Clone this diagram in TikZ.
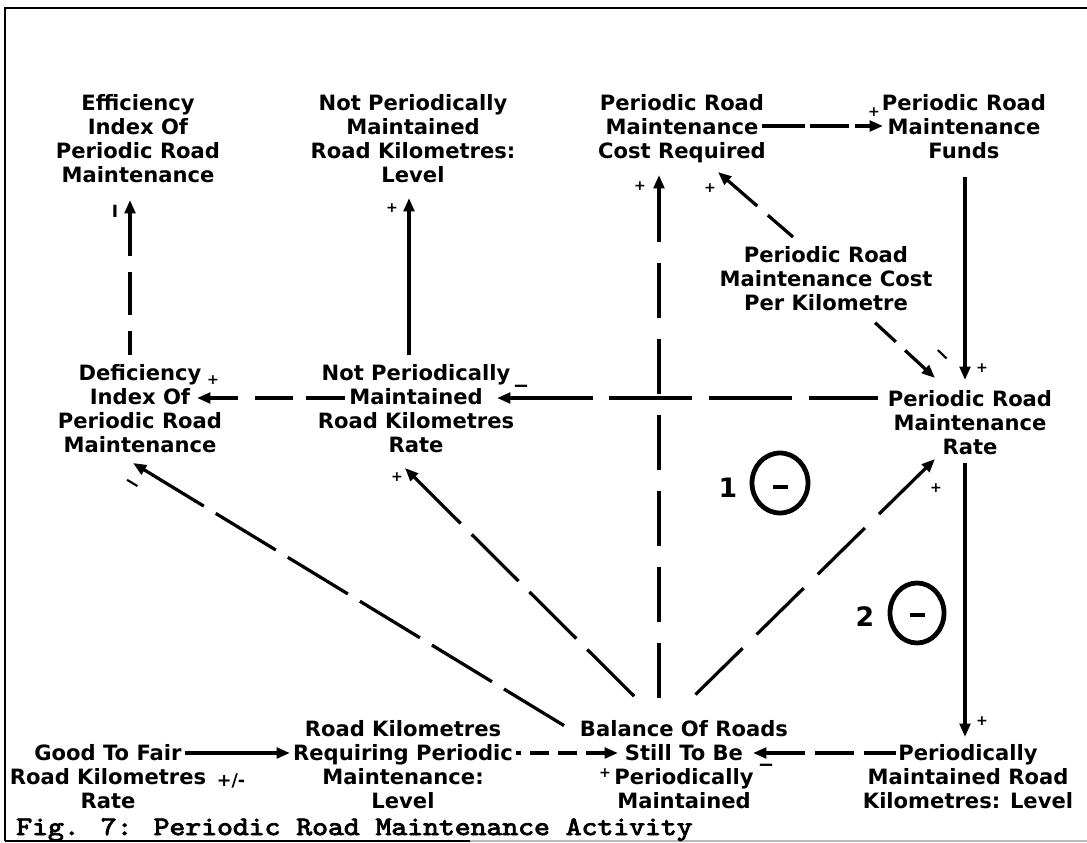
\documentclass[tikz,border=0pt]{standalone}
\usepackage{fontspec}
\usetikzlibrary{arrows.meta,calc}
\newfontfamily\labelfamily{DejaVu Sans}
\newfontfamily\captionfamily{lmmono10-regular}[Extension=.otf,FakeBold=3]
\begin{document}
\begin{tikzpicture}[x=0.025cm,y=-0.025cm,
  var/.style={font=\labelfamily\bfseries\fontsize{15}{17.2}\selectfont,
              align=center, inner sep=0pt, anchor=north},
  pol/.style={font=\labelfamily\bfseries\fontsize{10}{10}\selectfont, inner sep=0pt},
  neg/.style={font=\labelfamily\bfseries\fontsize{14}{14}\selectfont, inner sep=0pt},
  loopno/.style={font=\labelfamily\bfseries\fontsize{19}{20}\selectfont, inner sep=0pt},
  link/.style={line width=2.3pt, {Triangle[length=9.5pt,width=7.5pt]}-},
  loopring/.style={line width=3.4pt},
]
\useasboundingbox (0,0) rectangle (1087,843);

% frame
\draw[line width=1.6pt] (5,841) -- (5,8) -- (1087,8);
\draw[line width=1pt] (5,841) -- (470,841);
\draw[line width=1pt, gray!55] (470,841) -- (1087,841);

% variables
\node[var] (A) at (138,94)  {Efficiency\\Index Of\\Periodic Road\\Maintenance};
\node[var] (B) at (413,94)  {Not Periodically\\Maintained\\Road Kilometres:\\Level};
\node[var] (C) at (682,94)  {Periodic Road\\Maintenance\\Cost Required};
\node[var] (D) at (964,94)  {Periodic Road\\Maintenance\\Funds};
\node[var] (E) at (140,364) {Deficiency\\Index Of\\Periodic Road\\Maintenance};
\node[var] (F) at (416,364) {Not Periodically\\Maintained\\Road Kilometres\\Rate};
\node[var] (G) at (970,390) {Periodic Road\\Maintenance\\Rate};
\node[var] (H) at (826,246) {Periodic Road\\Maintenance Cost\\Per Kilometre};
\node[var] (I) at (108,744) {Good To Fair\\Road Kilometres\\Rate};
\node[var] (J) at (403,720) {Road Kilometres\\Requiring Periodic\\Maintenance:\\Level};
\node[var] (K) at (684,720) {Balance Of Roads\\Still To Be\\Periodically\\Maintained};
\node[var] (L) at (968,744) {Periodically\\Maintained Road\\Kilometres: Level};

% causal links (each drawn from its arrow head back to its source)
\draw[link, dash pattern=on 31pt off 11pt] ($(A.north)+(-8,106)$) -- ($(E.north)+(-10,-9)$);
\draw[link] ($(B.north)+(-4,104)$) -- ($(F.north)+(-7,-9)$);
\draw[link, dash pattern=on 39pt off 15pt] ($(C.north)+(-23,81)$) -- ($(K.north)+(-25,-8)$);
\draw[link, dash pattern=on 11pt off 4pt on 28pt off 3.5pt on 40pt off 0pt] ($(D.north)+(-81,32)$) -- ($(C.north)+(80,32)$);
\draw[link] ($(G.north)+(-5,-10)$) -- ($(D.north)+(1,83)$);
\draw[link, dash pattern=on 28pt off 10pt] ($(C.north)+(36,78)$) -- ($(H.north)+(-33,-9)$);
\draw[link, dash pattern=on 20pt off 9pt] ($(G.north)+(-35,-12)$) -- ($(H.north)+(44,72)$);
\draw[link, dash pattern=on 59pt off 12pt] ($(F.north)+(81,34)$) -- ($(G.north)+(-92,8)$);
\draw[link, dash pattern=on 20.5pt off 12pt on 27pt off 9pt on 28pt off 0pt] ($(E.north)+(57,34)$) -- ($(F.north)+(-71,34)$);
\draw[link, dash pattern=on 50pt off 10pt] ($(E.north)+(-7,99)$) -- ($(K.north)+(-116,8)$);
\draw[link, dash pattern=on 47pt off 11pt] ($(F.north)+(-11,104)$) -- ($(K.north)+(-44,-18)$);
\draw[link, dash pattern=on 47pt off 14pt] ($(G.north)+(-35,69)$) -- ($(K.north)+(9,-23)$);
\draw[link] ($(L.north)+(-3,-7)$) -- ($(G.north)+(-5,73)$);
\draw[link, dash pattern=on 28pt off 7pt] ($(K.north)+(69,33)$) -- ($(L.north)+(-72,9)$);
\draw[link, dash pattern=on 14pt off 6pt] ($(K.north)+(-66,33)$) -- ($(J.north)+(113,33)$);
\draw[link] ($(J.north)+(-113,33)$) -- ($(I.north)+(77,9)$);

% link polarities
\node[pol, font=\labelfamily\bfseries\fontsize{12}{12}\selectfont] (pEA) at (115,211) {I};
\node[pol] (pFB) at (392,208) {+};
\node[pol] (pKC) at (640,186) {+};
\node[pol] (pHC) at (710,188) {+};
\node[pol] (pCD) at (874,112) {+};
\node[pol] (pDG) at (982,368) {+};
\node[pol] (pFE) at (213,380) {+};
\node[pol] (pKF) at (397,477) {+};
\node[pol] (pKG) at (936,488) {+};
\node[pol] (pGL) at (982,721) {+};
\node[pol] (pJK) at (605,773) {+};
\node[neg, rotate=-44] (pHG) at (941,357) {−};
\node[neg] (pGF) at (521,389) {−};
\node[neg, rotate=-31] (pKE) at (131,486) {−};
\node[neg] (pLK) at (766,768) {−};
\node[pol, font=\labelfamily\bfseries\fontsize{12.5}{12.5}\selectfont] (pIJ) at (231,781) {+/-};

% feedback loop markers
\node[loopno] (n1) at (728,488) {1};
\draw[loopring] (780,483) ellipse [x radius=28, y radius=30];
\draw[line width=3pt] (773,487) -- (788,487);
\node[loopno] (n2) at (865,617) {2};
\draw[loopring] (917,613) ellipse [x radius=27, y radius=30];
\draw[line width=3pt] (910,615) -- (925,615);

% caption
\node[anchor=base west, inner sep=0pt, font=\captionfamily\fontsize{19}{22}\selectfont,
      xscale=1.13, transform shape] (cap) at (16,835) {Fig. 7: Periodic Road Maintenance Activity};
\end{tikzpicture}
\end{document}
